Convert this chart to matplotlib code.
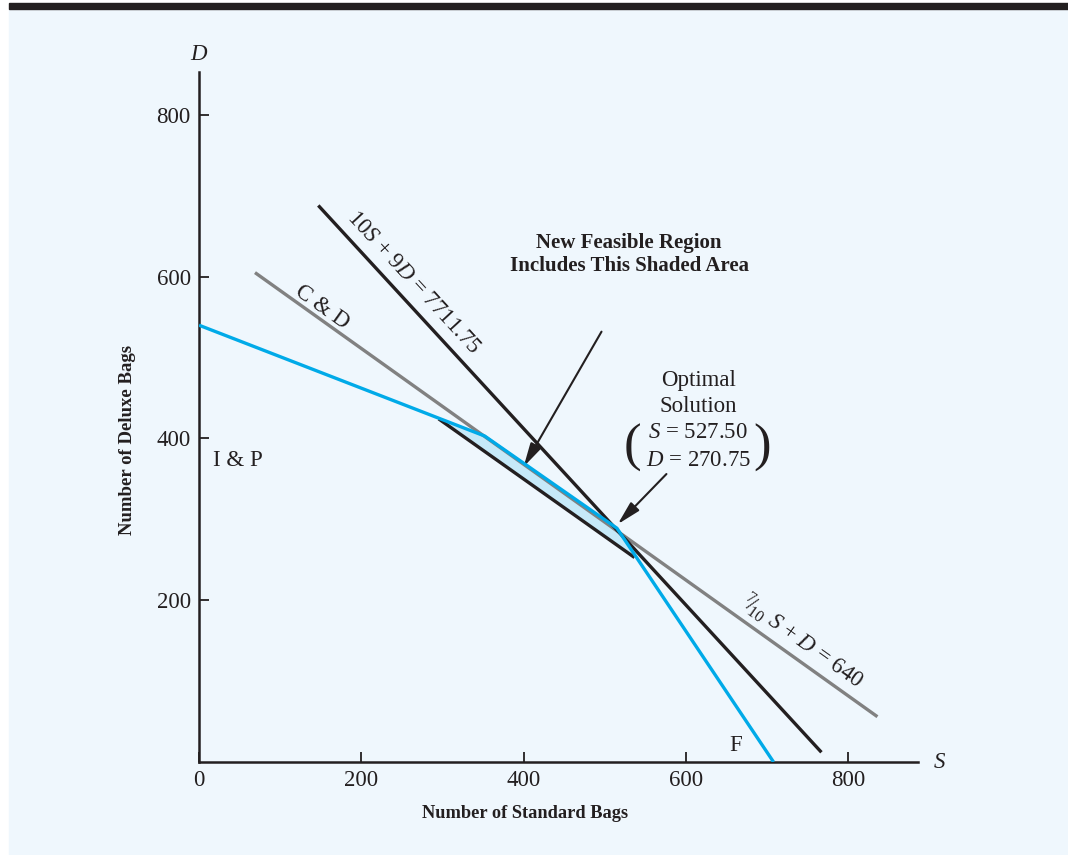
import matplotlib.pyplot as plt
from matplotlib.patches import Rectangle, Polygon

plt.rcParams['font.family'] = ['Liberation Serif', 'DejaVu Serif']
plt.rcParams['mathtext.fontset'] = 'custom'
plt.rcParams['mathtext.rm'] = 'Liberation Serif'
plt.rcParams['mathtext.it'] = 'Liberation Serif:italic'
plt.rcParams['mathtext.bf'] = 'Liberation Serif:bold'

# values (S = standard bags, D = deluxe bags)
new_boundary_s = [0, 352, 515, 708]      # blue: I & P, new C & D, F
new_boundary_d = [540, 403, 289, 0]
old_cd_s = [297, 535]                    # old C & D edge (black)
old_cd_d = [423, 254]
cd_line_s = [69, 836]                    # 7/10 S + D = 640 (gray)
cd_line_d = [605, 56]
profit_s = [147, 767]                    # 10S + 9D = 7711.75
profit_d = [688, 12]
shade_s = [297, 352, 515, 535]
shade_d = [423, 403, 289, 254]
x_ticks = [0, 200, 400, 600, 800]
y_ticks = [200, 400, 600, 800]
opt_s, opt_d = 515, 289

bg = '#EFF7FD'
blue = '#00AAE8'
gray = '#818181'
black = '#231F20'

fig = plt.figure(figsize=(10.68, 8.55), dpi=100)
fig.patches.append(Rectangle((9 / 1068, 0), 1, 1 - 9 / 855, transform=fig.transFigure,
                             color=bg, zorder=-10))
fig.patches.append(Rectangle((9 / 1068, 1 - 9 / 855), 1, 6 / 855, transform=fig.transFigure,
                             color=black, zorder=-10))

ax = fig.add_axes([199 / 1068, 93 / 855, 719 / 1068, 690 / 855])
ax.set_facecolor('none')
ax.set_xlim(0, 886)
ax.set_ylim(0, 853)
for sp in ['top', 'right']:
    ax.spines[sp].set_visible(False)
for sp in ['left', 'bottom']:
    ax.spines[sp].set_linewidth(1.8)
    ax.spines[sp].set_color(black)
ax.set_xticks(x_ticks)
ax.set_yticks(y_ticks)
ax.tick_params(direction='in', length=7, width=1.3, labelsize=16.5, pad=6, colors=black)

ax.add_patch(Polygon(list(zip(shade_s, shade_d)), closed=True, color='#C6E9F8', lw=0, zorder=1))
ax.plot(cd_line_s, cd_line_d, color=gray, lw=2.4, zorder=2, solid_capstyle='butt')
ax.plot(old_cd_s, old_cd_d, color=black, lw=2.4, zorder=3)
ax.plot(profit_s, profit_d, color=black, lw=2.4, zorder=3, solid_capstyle='butt')
ax.plot(new_boundary_s, new_boundary_d, color=blue, lw=2.4, zorder=4, solid_capstyle='butt')

ax.text(264, 593, r'10$S$ + 9$D$ = 7711.75', rotation=-47.4, fontsize=16.5,
        ha='center', va='center', color=black, rotation_mode='anchor')
ax.text(152, 562, 'C & D', rotation=-35.5, fontsize=16.5, ha='center', va='center',
        color=black, rotation_mode='anchor')
ax.text(48, 373, 'I & P', fontsize=16.5, ha='center', va='center', color=black)
ax.text(661, 21, 'F', fontsize=16.5, ha='center', va='center', color=black)
ax.text(744, 150, r'${}^{7}\!/\!{}_{10}$ $S$ + $D$ = 640', rotation=-35.5, fontsize=16.5,
        ha='center', va='center', color=black, rotation_mode='anchor')

ax.text(530, 627, 'New Feasible Region\nIncludes This Shaded Area', fontsize=15,
        fontweight='bold', ha='center', va='center', linespacing=1.2, color=black)
ax.annotate('', xy=(400, 365), xytext=(496, 532),
            arrowprops=dict(arrowstyle='-|>,head_length=0.8,head_width=0.2',
                            color=black, lw=1.5, mutation_scale=18, shrinkA=0, shrinkB=0))

ax.text(615, 472, 'Optimal', fontsize=16.5, ha='center', va='center', color=black)
ax.text(615, 440, 'Solution', fontsize=16.5, ha='center', va='center', color=black)
ax.text(615, 407, r'$S$ = 527.50', fontsize=16.5, ha='center', va='center', color=black)
ax.text(615, 373, r'$D$ = 270.75', fontsize=16.5, ha='center', va='center', color=black)
ax.text(534, 388, '(', fontsize=38, ha='center', va='center', color=black)
ax.text(694, 388, ')', fontsize=38, ha='center', va='center', color=black)
ax.annotate('', xy=(opt_s + 1, opt_d + 5), xytext=(576, 356),
            arrowprops=dict(arrowstyle='-|>,head_length=0.8,head_width=0.2',
                            color=black, lw=1.5, mutation_scale=18, shrinkA=0, shrinkB=0))

ax.text(0, 875, r'$D$', fontsize=16.5, ha='center', va='center', color=black, clip_on=False)
ax.text(912, 0, r'$S$', fontsize=16.5, ha='center', va='center', color=black, clip_on=False)
fig.text(525 / 1068, 1 - 813 / 855, 'Number of Standard Bags', fontsize=13.2,
         fontweight='bold', ha='center', va='center', color=black)
fig.text(127 / 1068, 1 - 440 / 855, 'Number of Deluxe Bags', fontsize=13.5,
         fontweight='bold', ha='center', va='center', rotation=90, color=black)

fig.savefig('out.png', dpi=100, facecolor='white')
